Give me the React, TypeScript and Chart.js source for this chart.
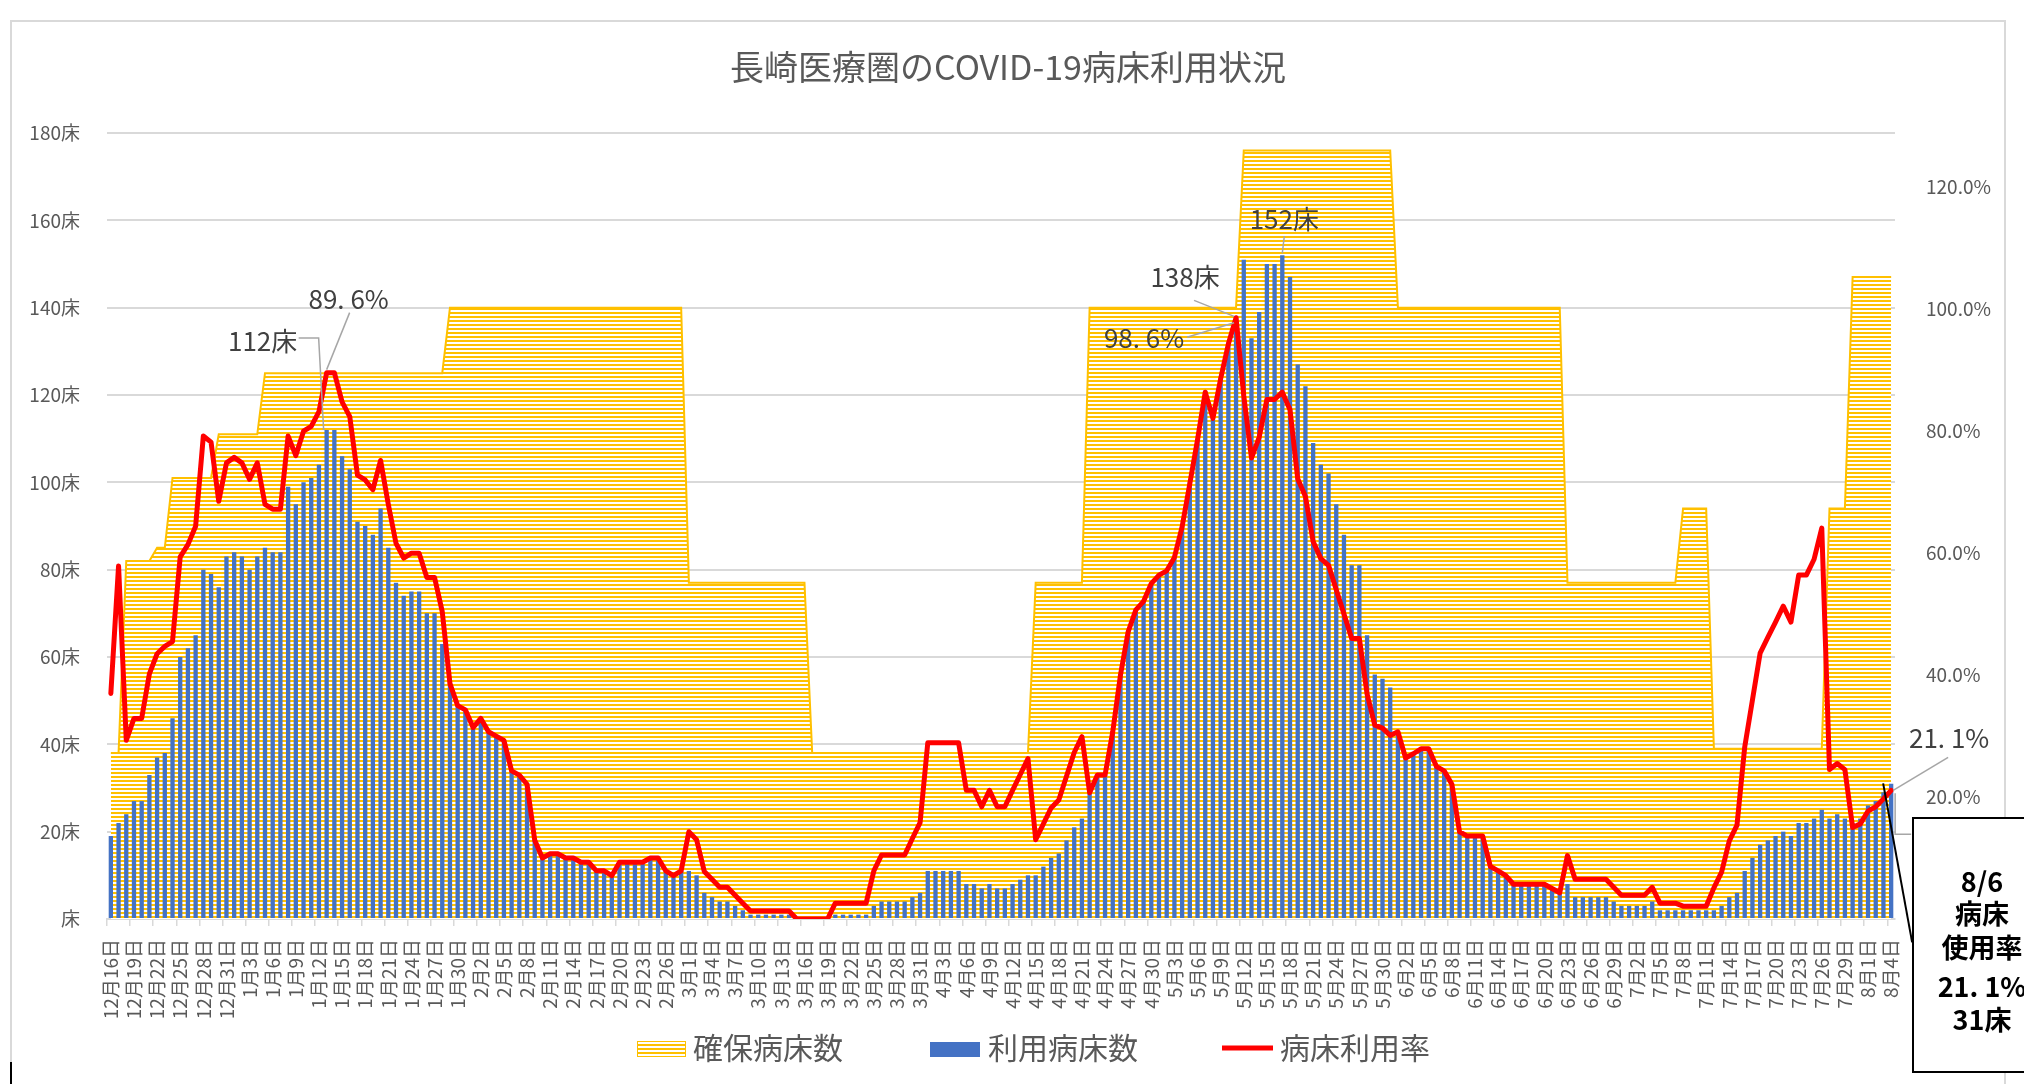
import React, { useEffect, useRef } from "react";
import { Chart, registerables } from "chart.js";

Chart.register(...registerables);

const FONT = '"Noto Sans CJK JP", "Noto Sans", sans-serif';
const TITLE = "長崎医療圏のCOVID-19病床利用状況";

// month, first day, last day
const monthRanges: [number, number, number][] = [
  [12, 16, 31], [1, 1, 31], [2, 1, 28], [3, 1, 31], [4, 1, 30],
  [5, 1, 31], [6, 1, 30], [7, 1, 31], [8, 1, 4],
];
const categories: string[] = monthRanges.flatMap(([m, s, e]) =>
  Array.from({ length: e - s + 1 }, (_, k) => `${m}月${s + k}日`)
);

// 確保病床数
const securedBeds = [
  38, 38, 82, 82, 82, 82, 85, 85, 101, 101, 101, 101, 101, 101, 111, 111,
  111, 111, 111, 111, 125, 125, 125, 125, 125, 125, 125, 125, 125, 125, 125, 125, 125, 125, 125, 125,
  125, 125, 125, 125, 125, 125, 125, 125, 140, 140, 140,
  140, 140, 140, 140, 140, 140, 140, 140, 140, 140, 140, 140, 140, 140, 140, 140, 140, 140, 140, 140,
  140, 140, 140, 140, 140, 140, 140, 140,
  77, 77, 77, 77, 77, 77, 77, 77, 77, 77, 77, 77, 77, 77, 77, 77, 38, 38, 38, 38, 38, 38, 38, 38,
  38, 38, 38, 38, 38, 38, 38,
  38, 38, 38, 38, 38, 38, 38, 38, 38, 38, 38, 38, 38, 38, 77, 77, 77, 77, 77, 77, 77, 140, 140, 140,
  140, 140, 140, 140, 140, 140,
  140, 140, 140, 140, 140, 140, 140, 140, 140, 140, 140, 176, 176, 176, 176, 176, 176, 176, 176, 176,
  176, 176, 176, 176, 176, 176, 176, 176, 176, 176, 176,
  140, 140, 140, 140, 140, 140, 140, 140, 140, 140, 140, 140, 140, 140, 140, 140, 140, 140, 140, 140,
  140, 140, 77, 77, 77, 77, 77, 77, 77, 77,
  77, 77, 77, 77, 77, 77, 77, 94, 94, 94, 94, 39, 39, 39, 39, 39, 39, 39, 39, 39, 39, 39, 39, 39, 39,
  39, 94, 94, 94, 147, 147,
  147, 147, 147, 147,
];

// 利用病床数
const usedBeds = [
  19, 22, 24, 27, 27, 33, 37, 38, 46, 60, 62, 65, 80, 79, 76, 83,
  84, 83, 80, 83, 85, 84, 84, 99, 95, 100, 101, 104, 112, 112, 106, 103, 91, 90, 88, 94, 85, 77, 74, 75,
  75, 70, 70, 63, 54, 49, 48,
  44, 46, 43, 42, 41, 34, 33, 31, 18, 14, 15, 15, 14, 14, 13, 13, 11, 11, 10, 13, 13, 13, 13, 14, 14,
  11, 10, 11,
  11, 10, 6, 5, 4, 4, 3, 2, 1, 1, 1, 1, 1, 1, 0, 0, 0, 0, 0, 1, 1, 1, 1, 1, 3, 4, 4, 4, 4, 5, 6,
  11, 11, 11, 11, 11, 8, 8, 7, 8, 7, 7, 8, 9, 10, 10, 12, 14, 15, 18, 21, 23, 29, 33, 33, 43, 56, 66,
  71, 73, 77,
  79, 80, 83, 90, 100, 110, 121, 115, 124, 132, 138, 151, 133, 139, 150, 150, 152, 147, 127, 122, 109,
  104, 102, 95, 88, 81, 81, 65, 56, 55, 53,
  43, 37, 38, 39, 39, 35, 34, 31, 20, 19, 19, 19, 12, 11, 10, 8, 8, 8, 8, 8, 7, 6, 8, 5, 5, 5, 5, 5,
  4, 3,
  3, 3, 3, 4, 2, 2, 2, 2, 2, 2, 2, 2, 3, 5, 6, 11, 14, 17, 18, 19, 20, 19, 22, 22, 23, 25, 23, 24, 23,
  22, 23,
  26, 27, 29, 31,
];

// 病床利用率 (%)
const utilizationRate = [
  37, 57.9, 29.3, 32.9, 32.9, 40.2, 43.5, 44.7, 45.5, 59.4, 61.4, 64.4, 79.2, 78.2, 68.5, 74.8,
  75.7, 74.8, 72.1, 74.8, 68.0, 67.2, 67.2, 79.2, 76.0, 80.0, 80.8, 83.2, 89.6, 89.6, 84.8, 82.4, 72.8,
  72.0, 70.4, 75.2, 68.0, 61.6, 59.2, 60.0, 60.0, 56.0, 56.0, 50.4, 38.6, 35.0, 34.3,
  31.4, 32.9, 30.7, 30.0, 29.3, 24.3, 23.6, 22.1, 12.9, 10.0, 10.7, 10.7, 10.0, 10.0, 9.3, 9.3, 7.9,
  7.9, 7.1, 9.3, 9.3, 9.3, 9.3, 10.0, 10.0, 7.9, 7.1, 7.9,
  14.3, 13.0, 7.8, 6.5, 5.2, 5.2, 3.9, 2.6, 1.3, 1.3, 1.3, 1.3, 1.3, 1.3, 0, 0, 0, 0, 0, 2.6, 2.6,
  2.6, 2.6, 2.6, 7.9, 10.5, 10.5, 10.5, 10.5, 13.2, 15.8,
  28.9, 28.9, 28.9, 28.9, 28.9, 21.1, 21.1, 18.4, 21.1, 18.4, 18.4, 21.1, 23.7, 26.3, 13.0, 15.6, 18.2,
  19.5, 23.4, 27.3, 29.9, 20.7, 23.6, 23.6, 30.7, 40.0, 47.1, 50.7, 52.1, 55.0,
  56.4, 57.1, 59.3, 64.3, 71.4, 78.6, 86.4, 82.1, 88.6, 94.3, 98.6, 85.8, 75.6, 79.0, 85.2, 85.2, 86.4,
  83.5, 72.2, 69.3, 61.9, 59.1, 58.0, 54.0, 50.0, 46.0, 46.0, 36.9, 31.8, 31.3, 30.1,
  30.7, 26.4, 27.1, 27.9, 27.9, 25.0, 24.3, 22.1, 14.3, 13.6, 13.6, 13.6, 8.6, 7.9, 7.1, 5.7, 5.7, 5.7,
  5.7, 5.7, 5.0, 4.3, 10.4, 6.5, 6.5, 6.5, 6.5, 6.5, 5.2, 3.9,
  3.9, 3.9, 3.9, 5.2, 2.6, 2.6, 2.6, 2.1, 2.1, 2.1, 2.1, 5.1, 7.7, 12.8, 15.4, 28.2, 35.9, 43.6, 46.2,
  48.7, 51.3, 48.7, 56.4, 56.4, 59.0, 64.1, 24.5, 25.5, 24.5, 15.0, 15.6,
  17.7, 18.4, 19.7, 21.1,
];

const leftTicks = [0, 20, 40, 60, 80, 100, 120, 140, 160, 180];
const rightTicks = [0, 20, 40, 60, 80, 100, 120];

const legendLabels = ["確保病床数", "利用病床数", "病床利用率"];
const boxLines = ["8/6", "病床", "使用率", "21. 1%", "31床"];

// annotated category indices
const firstPeakIdx = 28;
const secondPeakIdx = 146;
const maxBedsIdx = 152;
const lastIdx = 231;

export default function App() {
  const ref = useRef<HTMLCanvasElement>(null);

  useEffect(() => {
    document.body.style.margin = "0";
    const canvas = ref.current!;
    const pc = document.createElement("canvas");
    pc.width = 4;
    pc.height = 4;
    const pctx = pc.getContext("2d")!;
    pctx.fillStyle = "#ffffff";
    pctx.fillRect(0, 0, 4, 4);
    pctx.fillStyle = "#FFC000";
    pctx.fillRect(0, 0, 4, 2);
    const pattern = canvas.getContext("2d")!.createPattern(pc, "repeat")!;

    const decorations = {
      id: "decorations",
      beforeDraw(chart: any) {
        const c = chart.ctx as CanvasRenderingContext2D;
        c.save();
        c.fillStyle = "#ffffff";
        c.fillRect(0, 0, chart.width, chart.height);
        c.strokeStyle = "#d9d9d9";
        c.lineWidth = 2;
        c.strokeRect(11, 21, 1994, 1200);
        c.strokeStyle = "#000000";
        c.lineWidth = 2;
        c.beginPath();
        c.moveTo(11, 1062);
        c.lineTo(11, 1084);
        c.stroke();
        c.restore();
      },
      afterDraw(chart: any) {
        const c = chart.ctx as CanvasRenderingContext2D;
        const xs = chart.scales.x;
        const yL = chart.scales.y;
        const yR = chart.scales.y1;
        c.save();

        // title
        c.fillStyle = "#595959";
        c.font = `34px ${FONT}`;
        c.textAlign = "center";
        c.textBaseline = "middle";
        c.fillText(TITLE, 1008, 67);

        const label = (s: string, x: number, y: number) => {
          c.fillStyle = "#404040";
          c.font = `26px ${FONT}`;
          c.textAlign = "center";
          c.textBaseline = "middle";
          c.fillText(s, x, y);
        };
        const leader = (pts: number[][], color = "#a6a6a6", w = 1.5) => {
          c.strokeStyle = color;
          c.lineWidth = w;
          c.beginPath();
          pts.forEach((p, k) => (k === 0 ? c.moveTo(p[0], p[1]) : c.lineTo(p[0], p[1])));
          c.stroke();
        };

        // first peak
        let bx = xs.getPixelForValue(firstPeakIdx);
        let by = yL.getPixelForValue(usedBeds[firstPeakIdx]);
        let ry = yR.getPixelForValue(utilizationRate[firstPeakIdx]);
        leader([[bx - 28, by - 92], [bx - 8, by - 92], [bx - 3, by]]);
        label(`${usedBeds[firstPeakIdx]}床`, bx - 64, by - 89);
        leader([[bx + 23, ry - 60], [bx, ry - 3]]);
        label("89. 6%", bx + 22, ry - 74);

        // second peak
        bx = xs.getPixelForValue(secondPeakIdx);
        by = yL.getPixelForValue(usedBeds[secondPeakIdx]);
        ry = yR.getPixelForValue(utilizationRate[secondPeakIdx]);
        leader([[bx - 42, by - 16], [bx - 2, by]]);
        label(`${usedBeds[secondPeakIdx]}床`, bx - 51, by - 39);
        leader([[bx - 49, ry + 19.5], [bx - 2, ry + 5]]);
        label("98. 6%", bx - 92, ry + 20.5);

        // max beds
        bx = xs.getPixelForValue(maxBedsIdx);
        by = yL.getPixelForValue(usedBeds[maxBedsIdx]);
        leader([[bx + 2, by - 19], [bx, by - 2]]);
        label(`${usedBeds[maxBedsIdx]}床`, bx + 2, by - 36);

        // last point
        bx = xs.getPixelForValue(lastIdx);
        ry = yR.getPixelForValue(utilizationRate[lastIdx]);
        leader([[bx + 57, ry - 33], [bx + 2, ry]]);
        label("21. 1%", bx + 58, ry - 52);
        leader([[bx + 4, ry + 3], [bx + 4, ry + 44], [bx + 20, ry + 44]]);
        leader([[bx - 8, ry - 7], [bx + 21, ry + 152]], "#000000", 2);

        // legend
        c.textAlign = "left";
        c.textBaseline = "middle";
        c.font = `30px ${FONT}`;
        c.fillStyle = pattern;
        c.fillRect(637, 1041, 49, 16);
        c.strokeStyle = "#FFC000";
        c.lineWidth = 1;
        c.strokeRect(637.5, 1041.5, 48, 15);
        c.fillStyle = "#595959";
        c.fillText(legendLabels[0], 693, 1048);
        c.fillStyle = "#4472C4";
        c.fillRect(930, 1042, 50, 15);
        c.fillStyle = "#595959";
        c.fillText(legendLabels[1], 988, 1048);
        c.strokeStyle = "#FF0000";
        c.lineWidth = 5;
        c.beginPath();
        c.moveTo(1222, 1048);
        c.lineTo(1273, 1048);
        c.stroke();
        c.fillStyle = "#595959";
        c.fillText(legendLabels[2], 1280, 1048);

        // annotation box
        c.fillStyle = "#ffffff";
        c.fillRect(1913, 818, 150, 254);
        c.strokeStyle = "#000000";
        c.lineWidth = 2;
        c.strokeRect(1913, 818, 150, 254);
        c.fillStyle = "#000000";
        c.font = `bold 27px ${FONT}`;
        c.textAlign = "center";
        const ys = [882, 914, 948, 987, 1020];
        boxLines.forEach((t, k) => c.fillText(t, 1982, ys[k]));

        c.restore();
      },
    };

    const chart = new Chart(canvas, {
      type: "bar",
      data: {
        labels: categories,
        datasets: [
          {
            type: "line",
            label: legendLabels[2],
            data: utilizationRate,
            yAxisID: "y1",
            borderColor: "#FF0000",
            borderWidth: 5,
            pointRadius: 0,
            tension: 0,
            fill: false,
            borderJoinStyle: "round",
            borderCapStyle: "round",
            order: 0,
          } as any,
          {
            type: "bar",
            label: legendLabels[1],
            data: usedBeds,
            yAxisID: "y",
            backgroundColor: "#4472C4",
            barPercentage: 0.56,
            categoryPercentage: 1,
            order: 1,
          },
          {
            type: "line",
            label: legendLabels[0],
            data: securedBeds,
            yAxisID: "y",
            borderColor: "#FFC000",
            borderWidth: 2,
            backgroundColor: pattern,
            fill: "origin",
            pointRadius: 0,
            tension: 0,
            order: 2,
          } as any,
        ],
      },
      options: {
        responsive: false,
        animation: false,
        devicePixelRatio: 1,
        layout: { padding: { left: 0, right: 0, top: 133, bottom: 0 } },
        plugins: {
          legend: { display: false },
          title: { display: false },
          tooltip: { enabled: false },
        },
        scales: {
          x: {
            offset: true,
            grid: {
              offset: true,
              drawOnChartArea: false,
              drawTicks: true,
              tickLength: 7,
              lineWidth: 1.5,
              color: (ctx: any) => (ctx.index % 3 === 0 ? "#d9d9d9" : "rgba(0,0,0,0)"),
            },
            border: { display: true, color: "#d9d9d9", width: 2 },
            ticks: {
              autoSkip: false,
              maxRotation: 90,
              minRotation: 90,
              padding: 13,
              color: "#595959",
              font: { family: FONT, size: 19 },
              callback: (_v: any, i: number) => (i % 3 === 0 ? categories[i] : ""),
            },
            afterFit: (s: any) => {
              s.height = 165;
            },
          },
          y: {
            position: "left",
            min: 0,
            max: 180,
            afterBuildTicks: (s: any) => {
              s.ticks = leftTicks.map((v) => ({ value: v }));
            },
            grid: { color: "#d9d9d9", lineWidth: 2, drawTicks: false },
            border: { display: false },
            ticks: {
              padding: 27,
              color: "#595959",
              font: { family: FONT, size: 19 },
              callback: (v: any) => (Number(v) === 0 ? "床" : `${v}床`),
            },
            afterFit: (s: any) => {
              s.width = 107;
            },
          },
          y1: {
            position: "right",
            min: 0,
            max: 128.9,
            afterBuildTicks: (s: any) => {
              s.ticks = rightTicks.map((v) => ({ value: v }));
            },
            grid: { display: false, drawOnChartArea: false },
            border: { display: false },
            ticks: {
              padding: 23,
              color: "#595959",
              font: { family: FONT, size: 19 },
              callback: (v: any) => `${Number(v).toFixed(1)}%`,
            },
            afterFit: (s: any) => {
              s.width = 129;
            },
          },
        },
      } as any,
      plugins: [decorations],
    });

    return () => chart.destroy();
  }, []);

  return (
    <canvas
      ref={ref}
      width={2024}
      height={1084}
      style={{ display: "block", width: 2024, height: 1084 }}
    />
  );
}
